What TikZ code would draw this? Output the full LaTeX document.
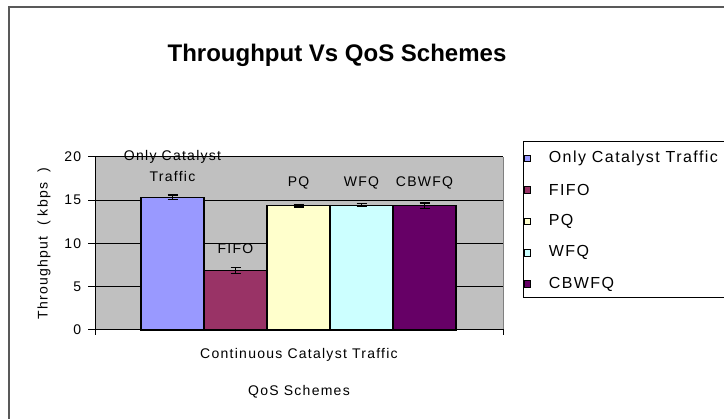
\documentclass[tikz,border=0pt]{standalone}
\usepackage{fontspec}
\setmainfont{Liberation Sans}
\newfontfamily\chartfont[LetterSpace=9]{Liberation Sans}
\usetikzlibrary{positioning}
\definecolor{plotgray}{HTML}{C0C0C0}
\definecolor{onlycat}{HTML}{9999FF}
\definecolor{fifo}{HTML}{993366}
\definecolor{pq}{HTML}{FFFFCC}
\definecolor{wfq}{HTML}{CCFFFF}
\definecolor{cbwfq}{HTML}{660066}
\tikzset{every picture/.style={/utils/exec={\chartfont\fontsize{14}{16}\selectfont}}}
\tikzset{bar/.style={draw=black, line width=1.2pt}}
\tikzset{errbar/.style={black, line width=1.5pt}}
\tikzset{gridline/.style={black, line width=1pt}}
\tikzset{legendkey/.style={draw=black, line width=0.8pt, minimum size=6.5pt, inner sep=0pt}}
\tikzset{legendtext/.style={inner sep=0pt, font=\chartfont\fontsize{16}{18}\selectfont}}

\begin{document}
\begin{tikzpicture}[x=1pt, y=1pt]
    \useasboundingbox (0, 0) rectangle (724, 419);
    \draw [black!65, line width=2pt] (9, -20) rectangle (750, 412);
    \node (title) [anchor=base, font=\normalfont\bfseries\fontsize{24}{24}\selectfont] at (337, 357) {Throughput Vs QoS Schemes};
    \begin{scope}[shift={(95, 89)}, y=8.65pt]
        \fill [plotgray] (0, 0) rectangle (408, 20);
        \draw [gray, line width=1pt] (408, 0) -- (408, 20);
        \draw [gridline] (-7, 5) -- (408, 5);
        \draw [gridline] (-7, 10) -- (408, 10);
        \draw [gridline] (-7, 15) -- (408, 15);
        \draw [gridline] (-7, 20) -- (408, 20);
        \draw [gridline] (-7, 0) -- (0, 0);
        \node (tick0) [left] at (-9, 0) {0};
        \node (tick5) [left] at (-9, 5) {5};
        \node (tick10) [left] at (-9, 10) {10};
        \node (tick15) [left] at (-9, 15) {15};
        \node (tick20) [left] at (-9, 20) {20};
        \coordinate (onlytop) at (77.5, 15.3);
        \coordinate (fifotop) at (140.5, 6.9);
        \coordinate (pqtop) at (203.5, 14.35);
        \coordinate (wfqtop) at (266.5, 14.35);
        \coordinate (cbwfqtop) at (329.5, 14.35);
        \draw [bar, fill=onlycat] (46, 0) rectangle (109, 15.3);
        \draw [bar, fill=fifo] (109, 0) rectangle (172, 6.9);
        \draw [bar, fill=pq] (172, 0) rectangle (235, 14.35);
        \draw [bar, fill=wfq] (235, 0) rectangle (298, 14.35);
        \draw [bar, fill=cbwfq] (298, 0) rectangle (361, 14.35);
        % error bars
        \draw [errbar] (onlytop) ++(-5, -0.2) -- ++(10, 0) ++(-5, 0) -- ++(0, 0.5) ++(-5, 0) -- ++(10, 0);
        \draw [errbar] (fifotop) ++(-5, -0.35) -- ++(10, 0) ++(-5, 0) -- ++(0, 0.7) ++(-5, 0) -- ++(10, 0);
        \draw [errbar] (pqtop) ++(-5, -0.15) -- ++(10, 0) ++(-5, 0) -- ++(0, 0.25) ++(-5, 0) -- ++(10, 0);
        \draw [errbar] (wfqtop) ++(-5, -0.1) -- ++(10, 0) ++(-5, 0) -- ++(0, 0.4) ++(-5, 0) -- ++(10, 0);
        \draw [errbar] (cbwfqtop) ++(-5, -0.3) -- ++(10, 0) ++(-5, 0) -- ++(0, 0.65) ++(-5, 0) -- ++(10, 0);
        \draw [gridline] (0, 20) -- (0, -0.6);
        \draw [gridline] (0, 0) -- (408, 0) -- (408, -0.6);
        \node (lblonly) [above=11pt of onlytop, align=center, font=\fontsize{14}{21}\selectfont] {Only Catalyst\\Traffic};
        \node (lblfifo) [above=12pt of fifotop] {FIFO};
        \node (lblpq) [above=12pt of pqtop] {PQ};
        \node (lblwfq) [above=12pt of wfqtop] {WFQ};
        \node (lblcbwfq) [above=12pt of cbwfqtop] {CBWFQ};
        \coordinate (xmid) at (204, 0);
        \node (cattext) [below=13pt of xmid] {Continuous Catalyst Traffic};
        \node (axistitle) [below=15pt of cattext] {QoS Schemes};
        \node (ylabel) [rotate=90] at (-51, 10) {Throughput\ \ ( kbps\ \ )};
    \end{scope}
    \draw [black, line width=1pt] (523, 277) rectangle (750, 121);
    \node (keyonly) [legendkey, fill=onlycat] at (527.5, 260.5) {};
    \node (keyfifo) [legendkey, fill=fifo] at (527.5, 229.1) {};
    \node (keypq) [legendkey, fill=pq] at (527.5, 197.7) {};
    \node (keywfq) [legendkey, fill=wfq] at (527.5, 166.3) {};
    \node (keycbwfq) [legendkey, fill=cbwfq] at (527.5, 134.9) {};
    \node (textonly) [legendtext, right=17.5pt of keyonly] {Only Catalyst Traffic};
    \node (textfifo) [legendtext, right=17.5pt of keyfifo] {FIFO};
    \node (textpq) [legendtext, right=17.5pt of keypq] {PQ};
    \node (textwfq) [legendtext, right=17.5pt of keywfq] {WFQ};
    \node (textcbwfq) [legendtext, right=17.5pt of keycbwfq] {CBWFQ};
\end{tikzpicture}
\end{document}
